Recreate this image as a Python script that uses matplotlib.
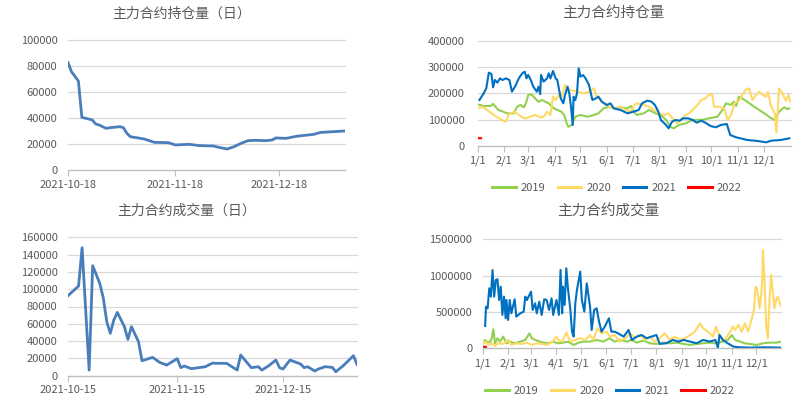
import matplotlib
matplotlib.use('Agg')
import matplotlib.pyplot as plt
import matplotlib.dates as mdates
from matplotlib.ticker import FuncFormatter, FixedLocator
import numpy as np
import pandas as pd

plt.rcParams['font.family'] = ['Noto Sans CJK SC', 'DejaVu Sans']

# ---------------- data ----------------
# Panel 1: 主力合约持仓量（日）
oi_dates = ['2021-10-18', '2021-10-19', '2021-10-21', '2021-10-22', '2021-10-25', '2021-10-26',
            '2021-10-27', '2021-10-29', '2021-10-30', '2021-11-02', '2021-11-03', '2021-11-04',
            '2021-11-05', '2021-11-09', '2021-11-12', '2021-11-16', '2021-11-18', '2021-11-22',
            '2021-11-25', '2021-11-29', '2021-12-01', '2021-12-03', '2021-12-05', '2021-12-07',
            '2021-12-09', '2021-12-11', '2021-12-14', '2021-12-16', '2021-12-17', '2021-12-20',
            '2021-12-23', '2021-12-28', '2021-12-30', '2022-01-03', '2022-01-06']
oi_values = [82800, 75800, 68600, 40600, 38600, 35500, 34700, 32100, 32600, 33400, 32600, 28300,
             25700, 23900, 21300, 21100, 19300, 19800, 18800, 18500, 17200, 16200, 18000, 20600,
             22600, 22900, 22600, 23100, 24700, 24400, 26000, 27500, 29000, 29600, 30100]
oi_ticks = ['2021-10-18', '2021-11-18', '2021-12-18']

# Panel 2: 主力合约成交量（日）
vol_dates = ['2021-10-15', '2021-10-18', '2021-10-19', '2021-10-21', '2021-10-22', '2021-10-24',
             '2021-10-25', '2021-10-26', '2021-10-27', '2021-10-28', '2021-10-29', '2021-10-31',
             '2021-11-01', '2021-11-02', '2021-11-04', '2021-11-05', '2021-11-08', '2021-11-10',
             '2021-11-12', '2021-11-15', '2021-11-16', '2021-11-17', '2021-11-19', '2021-11-23',
             '2021-11-25', '2021-11-26', '2021-11-29', '2021-12-02', '2021-12-03', '2021-12-06',
             '2021-12-08', '2021-12-09', '2021-12-11', '2021-12-13', '2021-12-14', '2021-12-15',
             '2021-12-17', '2021-12-20', '2021-12-21', '2021-12-22', '2021-12-24', '2021-12-25',
             '2021-12-27', '2021-12-29', '2021-12-30', '2022-01-01', '2022-01-04', '2022-01-05']
vol_values = [92500, 103700, 148000, 6500, 127200, 106800, 90200, 62400, 49000, 64400,
              73200, 56700, 42000, 56700, 39300, 17300, 21200, 15400, 12300, 19700,
              9300, 11200, 8100, 10400, 14600, 14300, 14300, 6500, 23900, 9300,
              10400, 6500, 11600, 18100, 9300, 7700, 18100, 13500, 9300, 10400,
              5400, 7700, 10400, 9600, 4600, 11200, 23100, 13100]
vol_ticks = ['2021-10-15', '2021-11-15', '2021-12-15']

# Seasonal panels: x = day of year
month_days = [0, 31, 59, 90, 120, 151, 181, 212, 243, 273, 304, 334]
month_labels = ['1/1', '2/1', '3/1', '4/1', '5/1', '6/1', '7/1', '8/1', '9/1', '10/1', '11/1', '12/1']
years = ['2019', '2020', '2021', '2022']

# Panel 3: 主力合约持仓量 (by year)
pos19_days = [0, 7, 15, 18, 24, 30, 34, 42, 46, 50, 54, 57, 59, 63, 67, 71, 75, 79, 83, 89,
              93, 98, 101, 104, 106, 110, 114, 120, 128, 136, 141, 147, 153, 159, 167, 175, 179, 182, 186, 194,
              200, 208, 214, 220, 225, 229, 235, 243, 251, 261, 270, 280, 286, 290, 296, 299, 302, 305, 309, 315,
              323, 335, 343, 347, 352, 358, 362, 364]
pos19_vals = [158000, 152000, 152000, 160000, 137000, 130000, 124000, 124000, 149000, 156000,
              147000, 168000, 194000, 196000, 181000, 168000, 175000, 168000, 162000, 143000,
              137000, 130000, 118000, 86000, 73000, 80000, 111000, 118000, 111000, 118000,
              124000, 143000, 149000, 143000, 147000, 143000, 152000, 130000, 118000, 124000,
              137000, 124000, 118000, 99000, 73000, 67000, 80000, 86000, 99000, 99000,
              105000, 111000, 137000, 162000, 156000, 168000, 152000, 187000, 181000, 168000,
              149000, 124000, 105000, 99000, 130000, 147000, 140000, 143000]
pos20_days = [0, 5, 11, 16, 22, 30, 33, 36, 42, 46, 52, 56, 61, 67, 73, 77, 81, 85, 88, 91,
              95, 98, 102, 104, 107, 112, 118, 124, 130, 136, 138, 143, 147, 155, 161, 167, 173, 179, 182, 186,
              194, 200, 206, 212, 218, 223, 229, 233, 237, 243, 247, 253, 257, 261, 266, 270, 274, 276, 282, 288,
              292, 296, 300, 306, 309, 313, 317, 321, 325, 329, 333, 337, 339, 343, 347, 349, 352, 356, 360, 363,
              365]
pos20_vals = [143000, 149000, 137000, 124000, 111000, 96000, 92000, 118000, 130000, 124000,
              109000, 105000, 111000, 118000, 109000, 111000, 130000, 118000, 187000, 175000,
              194000, 187000, 232000, 219000, 213000, 210000, 206000, 200000, 206000, 219000,
              194000, 175000, 162000, 147000, 143000, 149000, 137000, 130000, 152000, 162000,
              156000, 149000, 137000, 124000, 118000, 124000, 99000, 86000, 99000, 118000,
              124000, 143000, 156000, 175000, 181000, 194000, 197000, 149000, 149000, 143000,
              99000, 118000, 162000, 175000, 194000, 213000, 219000, 175000, 194000, 206000,
              194000, 187000, 206000, 149000, 124000, 51000, 219000, 200000, 172000, 194000,
              168000]
pos21_days = [2, 7, 10, 13, 16, 18, 20, 23, 26, 29, 33, 37, 40, 44, 48, 52, 55, 57, 59, 62,
              65, 69, 71, 73, 74, 77, 81, 83, 85, 88, 91, 93, 97, 100, 102, 105, 107, 109, 111, 112,
              114, 116, 118, 120, 123, 126, 130, 134, 138, 141, 145, 151, 155, 159, 167, 175, 182, 188, 192, 198,
              203, 207, 211, 214, 220, 223, 227, 231, 236, 240, 246, 251, 256, 261, 266, 272, 278, 284, 291, 295,
              302, 307, 315, 327, 337, 343, 354, 364]
pos21_vals = [174700, 200000, 219000, 278500, 273500, 222800, 250700, 240500, 257000, 250700,
              257000, 250700, 206400, 227900, 257000, 276000, 282300, 257000, 269700, 250700,
              225300, 206400, 225300, 197500, 269700, 244300, 257000, 276000, 257000, 284900,
              257000, 250700, 181000, 162000, 193700, 225300, 200000, 149400, 79800, 187400,
              174700, 200000, 295000, 263300, 269700, 257000, 231700, 174700, 181000, 187400,
              168400, 155700, 162000, 143100, 136700, 124100, 130400, 136700, 162000, 172200,
              168400, 155700, 130400, 98800, 79800, 67100, 92400, 98800, 96200, 105100,
              105100, 98800, 88600, 96200, 88600, 76000, 70900, 79800, 83600, 41800,
              32900, 29100, 22800, 19000, 13900, 20300, 22800, 29100]
pos22_days = [1, 2, 3, 4]
pos22_vals = [30000, 29000, 30000, 29500]

# Panel 4: 主力合约成交量 (by year)
tv19_days = [0, 3, 6, 9, 11, 13, 15, 18, 21, 25, 29, 33, 39, 46, 52, 57, 60, 64, 70, 74,
             80, 86, 92, 98, 104, 111, 117, 123, 131, 139, 147, 155, 161, 167, 176, 182, 188, 196, 204, 212,
             220, 228, 237, 245, 253, 261, 269, 277, 285, 293, 299, 304, 308, 314, 320, 326, 334, 342, 350, 358,
             364]
tv19_vals = [69000, 115000, 78000, 92000, 138000, 261000, 69000, 138000, 92000, 161000,
             69000, 92000, 69000, 92000, 115000, 206000, 138000, 115000, 92000, 78000,
             69000, 92000, 69000, 78000, 92000, 46000, 78000, 92000, 92000, 115000,
             92000, 138000, 92000, 115000, 92000, 115000, 78000, 106000, 69000, 60000,
             78000, 69000, 78000, 60000, 46000, 60000, 69000, 78000, 69000, 92000,
             115000, 183000, 115000, 92000, 69000, 60000, 46000, 69000, 78000, 78000,
             92000]
tv20_days = [0, 3, 7, 11, 15, 19, 25, 31, 35, 41, 48, 54, 60, 66, 72, 78, 84, 90, 94, 98,
             102, 107, 113, 119, 125, 131, 135, 140, 145, 151, 155, 161, 167, 174, 180, 186, 192, 198, 204, 210,
             216, 222, 228, 234, 241, 247, 253, 259, 265, 269, 275, 281, 285, 289, 295, 302, 305, 308, 312, 316,
             320, 324, 328, 331, 333, 335, 338, 341, 342, 344, 346, 348, 350, 352, 354, 356, 358, 360, 362, 364]
tv20_vals = [60000, 92000, 46000, 69000, 32000, 69000, 60000, 115000, 46000, 69000,
             60000, 78000, 46000, 69000, 60000, 46000, 78000, 161000, 92000, 115000,
             216000, 92000, 115000, 138000, 115000, 183000, 115000, 275000, 206000, 229000,
             161000, 183000, 92000, 138000, 206000, 138000, 183000, 115000, 161000, 92000,
             138000, 206000, 115000, 161000, 115000, 138000, 183000, 229000, 344000, 275000,
             229000, 161000, 298000, 161000, 115000, 229000, 298000, 252000, 321000, 229000,
             344000, 229000, 390000, 528000, 849000, 803000, 550000, 894000, 1353000, 894000,
             298000, 138000, 665000, 1009000, 780000, 550000, 665000, 711000, 642000, 573000]
tv21_days = [3, 4, 6, 8, 10, 12, 14, 16, 18, 20, 22, 24, 26, 28, 29, 31, 33, 35, 39, 41,
             46, 50, 52, 54, 59, 61, 64, 66, 69, 72, 75, 78, 81, 84, 86, 90, 93, 95, 97, 98,
             100, 102, 104, 107, 109, 111, 113, 115, 119, 121, 124, 127, 131, 133, 136, 139, 142, 145, 149, 154,
             157, 161, 165, 172, 178, 182, 188, 194, 200, 206, 212, 216, 224, 232, 239, 245, 253, 261, 269, 277,
             284, 287, 289, 293, 299, 306, 314, 326, 342, 364]
tv21_vals = [307000, 573000, 550000, 826000, 711000, 1078000, 711000, 940000, 950000, 665000,
             849000, 459000, 711000, 413000, 665000, 390000, 665000, 482000, 674000, 436000,
             482000, 505000, 711000, 665000, 780000, 528000, 619000, 482000, 642000, 459000,
             674000, 665000, 528000, 688000, 459000, 665000, 459000, 1078000, 482000, 849000,
             596000, 1101000, 826000, 528000, 229000, 161000, 619000, 803000, 1055000, 665000,
             505000, 894000, 573000, 252000, 528000, 550000, 367000, 229000, 298000, 413000,
             229000, 229000, 206000, 161000, 252000, 115000, 161000, 183000, 138000, 161000,
             183000, 60000, 69000, 115000, 92000, 115000, 92000, 69000, 115000, 92000,
             115000, 10000, 183000, 115000, 69000, 23000, 14000, 9000, 14000, 9000]
tv22_days = [1, 2, 3, 4]
tv22_vals = [22000, 20000, 21000, 20000]

# ---------------- styling ----------------
W, H = 812, 404
fig = plt.figure(figsize=(W / 100, H / 100), dpi=100)
fig.patch.set_facecolor('white')

TXT = '#595959'
GRID = '#d9d9d9'
AXC = '#bfbfbf'
C_LEFT = '#4a7ebb'
YEAR_COLORS = ['#92d050', '#ffd966', '#0070c0', '#ff0000']


def add_ax(l, t, r, b):
    return fig.add_axes([l / W, 1 - b / H, (r - l) / W, (b - t) / H])


def style(ax, ymax, ystep, ypad, xpad):
    ax.set_ylim(0, ymax)
    ax.yaxis.set_major_locator(FixedLocator(np.arange(0, ymax + 1, ystep)))
    ax.yaxis.set_major_formatter(FuncFormatter(lambda v, p: f'{int(round(v))}'))
    ax.grid(axis='y', color=GRID, lw=0.9)
    ax.grid(axis='x', visible=False)
    ax.set_axisbelow(True)
    for s in ['left', 'right', 'top']:
        ax.spines[s].set_visible(False)
    ax.spines['bottom'].set_color(AXC)
    ax.spines['bottom'].set_linewidth(0.9)
    ax.tick_params(axis='y', length=0, pad=ypad, labelsize=8, labelcolor=TXT)
    ax.tick_params(axis='x', length=4, width=0.8, color=AXC, direction='out',
                   pad=xpad, labelsize=8, labelcolor=TXT)
    for gl in ax.get_ygridlines():
        gl.set_clip_on(False)


# Panel 1
ax1 = add_ax(68, 40.3, 345, 170)
d1 = pd.to_datetime(oi_dates)
ax1.plot(d1, oi_values, color=C_LEFT, lw=2.0, solid_joinstyle='round')
ax1.set_xlim(d1[0], d1[-1])
ax1.xaxis.set_major_locator(FixedLocator(mdates.date2num(pd.to_datetime(oi_ticks))))
ax1.xaxis.set_major_formatter(mdates.DateFormatter('%Y-%m-%d'))
style(ax1, 100000, 20000, 7.5, 3)
fig.text(182 / W, 1 - 14 / H, '主力合约持仓量（日）', ha='center', va='center', fontsize=10, color=TXT)

# Panel 2
ax2 = add_ax(68, 237.3, 357, 375.7)
d2 = pd.to_datetime(vol_dates)
ax2.plot(d2, vol_values, color=C_LEFT, lw=2.0, solid_joinstyle='round')
ax2.set_xlim(d2[0], d2[-1])
ax2.xaxis.set_major_locator(FixedLocator(mdates.date2num(pd.to_datetime(vol_ticks))))
ax2.xaxis.set_major_formatter(mdates.DateFormatter('%Y-%m-%d'))
style(ax2, 160000, 20000, 7.5, 3)
fig.text(187 / W, 1 - 211 / H, '主力合约成交量（日）', ha='center', va='center', fontsize=10, color=TXT)

# Panel 3
ax3 = add_ax(477.7, 40.7, 791, 146)
pos_series = [(pos19_days, pos19_vals), (pos20_days, pos20_vals),
              (pos21_days, pos21_vals), (pos22_days, pos22_vals)]
handles = []
for (dd, vv), c, yr in zip(pos_series, YEAR_COLORS, years):
    h, = ax3.plot(dd, vv, color=c, lw=1.5, label=yr, solid_joinstyle='round')
    handles.append(h)
ax3.set_xlim(0, 366)
ax3.set_xticks(month_days)
ax3.set_xticklabels(month_labels)
style(ax3, 400000, 100000, 9.5, 3)
fig.text(613 / W, 1 - 13 / H, '主力合约持仓量', ha='center', va='center', fontsize=10.5, color=TXT)

# Panel 4
ax4 = add_ax(482.7, 239.3, 781, 348.3)
tv_series = [(tv19_days, tv19_vals), (tv20_days, tv20_vals),
             (tv21_days, tv21_vals), (tv22_days, tv22_vals)]
handles4 = []
for (dd, vv), c, yr in zip(tv_series, YEAR_COLORS, years):
    h, = ax4.plot(dd, vv, color=c, lw=1.5, label=yr, solid_joinstyle='round')
    handles4.append(h)
ax4.set_xlim(0, 364)
ax4.set_xticks(month_days)
ax4.set_xticklabels(month_labels)
style(ax4, 1500000, 500000, 7.5, 3)
fig.text(608 / W, 1 - 212 / H, '主力合约成交量', ha='center', va='center', fontsize=10.5, color=TXT)

# Legends
for hs, cx, cy in [(handles, 617, 188), (handles4, 610, 390.5)]:
    leg = fig.legend(hs, years, loc='center', bbox_to_anchor=(cx / W, 1 - cy / H), ncol=4,
                     frameon=False, fontsize=8, handlelength=2.1, handletextpad=0.45,
                     columnspacing=1.1, borderaxespad=0, borderpad=0)
    for t in leg.get_texts():
        t.set_color(TXT)
    for l in leg.get_lines():
        l.set_linewidth(2.2)

fig.savefig('out.png', dpi=100, facecolor='white')
